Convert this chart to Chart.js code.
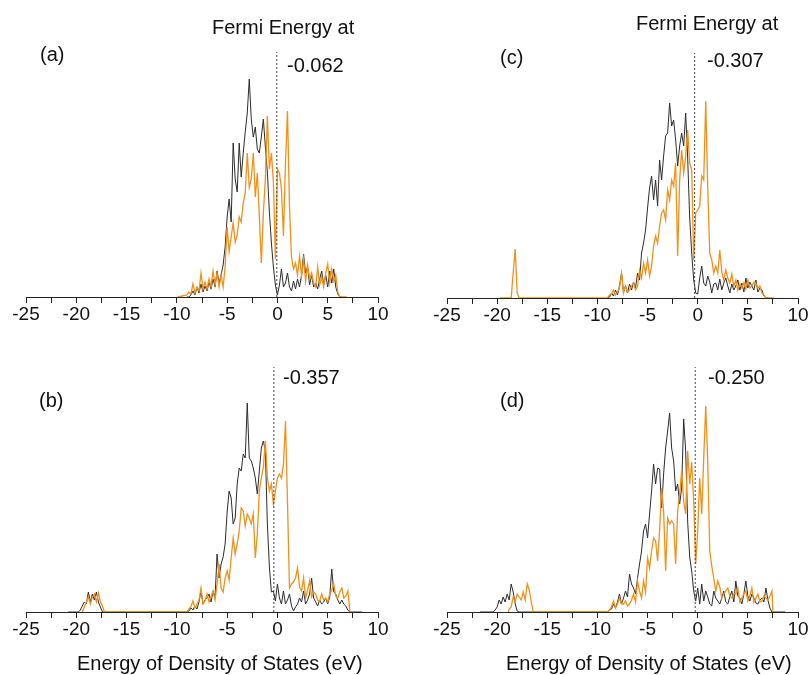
<!DOCTYPE html>
<html lang="en">
<head>
<meta charset="UTF-8">
<title>Density of States</title>
<script src="https://cdn.jsdelivr.net/npm/chart.js@4.4.0"></script>
<style>
  body { margin: 0; background: #fff; font-family: "Liberation Sans", Arial, sans-serif; }
  #page { position: relative; width: 811px; height: 675px; overflow: hidden; background: #fff; }
  canvas { position: absolute; }
  .txt { position: absolute; font-size: 20px; line-height: 20px; color: #111; white-space: nowrap; }
</style>
</head>
<body>
<div id="page">
  <canvas id="pa" width="405" height="330" style="left:0;top:0"></canvas>
  <canvas id="pb" width="405" height="330" style="left:0;top:315px"></canvas>
  <canvas id="pc" width="391" height="330" style="left:420px;top:1px"></canvas>
  <canvas id="pd" width="391" height="330" style="left:420px;top:315px"></canvas>

  <div class="txt" style="left:212px;top:17px">Fermi Energy at</div>
  <div class="txt" style="left:636px;top:13px">Fermi Energy at</div>
  <div class="txt" style="left:40px;top:44px">(a)</div>
  <div class="txt" style="left:500px;top:47px">(c)</div>
  <div class="txt" style="left:287px;top:55px">-0.062</div>
  <div class="txt" style="left:707px;top:50px">-0.307</div>
  <div class="txt" style="left:39px;top:390px">(b)</div>
  <div class="txt" style="left:500px;top:390px">(d)</div>
  <div class="txt" style="left:283px;top:367px">-0.357</div>
  <div class="txt" style="left:708px;top:367px">-0.250</div>
  <div class="txt" style="left:77px;top:653px">Energy of Density of States (eV)</div>
  <div class="txt" style="left:506px;top:653px">Energy of Density of States (eV)</div>
</div>

<script>
  // energy grids (eV): valence band from -9 eV, semi-core band from -20.4 eV
  const gridStart = -9;
  const coreStart = -20.4;
  const step = 0.2;

  // Fermi level of each panel (eV)
  const fermi = { a: -0.062, b: -0.357, c: -0.307, d: -0.250 };

  // DOS on the valence grid (-9.0 ... 7.6 eV), arbitrary units
  const aBlack = [
    0, 0, 0.2, 0.6, 0.2, 1.0, 0.4, 1.3, 0.5, 1.1,
    0.6, 1.5, 0.8, 1.8, 1.0, 2.6, 1.4, 2.2, 3.2, 5.0,
    8.0, 9.8, 7.5, 15.4, 11.8, 10.5, 15.4, 12.0, 14.4, 16.5,
    18.4, 21.8, 17.8, 16.0, 17.0, 14.8, 14.4, 16.0, 17.8, 15.0,
    12.5, 8.5, 5.4, 3.0, 1.2, 0.2, 1.2, 2.8, 1.0, 1.4,
    2.4, 1.0, 0.6, 1.6, 0.8, 1.8, 1.0, 2.2, 4.3, 2.4,
    3.0, 1.2, 2.2, 1.0, 1.4, 0.8, 1.8, 2.6, 1.2, 2.2,
    1.0, 2.6, 1.4, 2.8, 1.0, 0.3, 0, 0, 0, 0,
    0, 0, 0, 0
  ];
  const aOrange = [
    0.2, 0.5, 0.3, 1.3, 0.4, 1.0, 0.6, 2.4, 0.8, 1.5,
    0.8, 1.8, 1.0, 2.6, 1.2, 2.4, 1.0, 2.2, 1.0, 3.0,
    7.0, 4.5, 6.0, 7.4, 5.5, 6.2, 8.0, 7.5, 9.4, 10.4,
    14.4, 11.0, 11.8, 14.4, 10.0, 12.4, 8.1, 3.4, 8.4, 11.8,
    18.1, 12.8, 14.4, 11.5, 3.8, 12.8, 12.4, 10.8, 6.1, 13.4,
    18.6, 9.0, 4.0, 2.8, 3.4, 2.2, 4.1, 2.1, 3.8, 1.6,
    3.2, 1.8, 2.4, 1.4, 1.0, 3.0, 1.2, 2.0, 1.0, 2.4,
    3.3, 1.4, 2.8, 1.6, 2.2, 0.5, 0, 0, 0, 0,
    0, 0, 0, 0
  ];
  const bBlack = [
    0, 0.1, 0.4, 0.2, 0.6, 0.3, 1.0, 2.1, 0.8, 1.2,
    1.4, 1.8, 1.0, 2.1, 1.5, 5.8, 3.4, 4.8, 5.5, 6.8,
    10.0, 12.1, 11.4, 8.8, 9.4, 12.8, 14.4, 14.1, 15.8, 15.4,
    20.9, 15.4, 15.1, 14.4, 13.4, 11.8, 14.1, 16.4, 17.1, 16.1,
    8.8, 4.5, 2.0, 2.1, 1.1, 2.8, 1.4, 0.8, 2.1, 0.8,
    1.2, 1.8, 0.6, 0.1, 0.5, 0.8, 1.4, 1.0, 2.1, 0.8,
    1.2, 1.8, 3.4, 1.4, 1.0, 0.6, 1.2, 0.8, 1.0, 1.4,
    0.8, 1.5, 4.3, 2.0, 1.8, 1.2, 0.8, 1.2, 0.8, 0.6,
    0.2, 0, 0, 0
  ];
  const bOrange = [
    0, 0.3, 0.5, 1.1, 0.4, 0.8, 1.2, 2.4, 0.8, 1.1,
    1.8, 1.0, 1.5, 2.1, 1.2, 2.8, 4.8, 2.4, 2.0, 3.4,
    4.1, 3.2, 5.4, 7.4, 5.8, 6.8, 8.1, 10.4, 10.1, 8.6,
    9.8, 9.4, 8.8, 9.8, 5.4, 7.8, 12.1, 13.4, 14.5, 17.1,
    13.4, 12.1, 12.8, 10.8, 12.1, 13.4, 13.8, 13.4, 14.8, 19.1,
    11.0, 2.4, 2.8, 3.0, 3.4, 4.4, 2.5, 2.1, 3.4, 1.4,
    2.2, 3.1, 1.5, 2.0, 1.8, 1.2, 1.1, 1.8, 1.2, 1.4,
    1.0, 1.8, 2.2, 2.8, 1.6, 1.4, 2.0, 2.4, 1.4, 1.6,
    2.1, 0.1, 0, 0
  ];
  const cBlack = [
    0, 0.1, 0.5, 0.2, 0.8, 0.3, 1.2, 2.5, 0.6, 1.2,
    0.5, 1.4, 0.8, 1.6, 1.0, 2.5, 1.8, 4.5, 5.5, 6.8,
    9.0, 11.0, 12.2, 9.8, 11.8, 9.2, 13.8, 11.8, 14.2, 16.2,
    16.5, 19.5, 17.2, 17.8, 15.8, 13.2, 15.2, 16.5, 15.2, 18.5,
    14.0, 8.0, 4.5, 1.8, 0.5, 0.4, 2.0, 3.2, 1.5, 1.2,
    2.2, 1.6, 0.5, 1.4, 1.5, 0.8, 1.9, 0.8, 1.5, 2.0,
    1.2, 0.5, 1.4, 0.8, 1.2, 1.8, 0.8, 1.5, 0.6, 2.0,
    1.0, 1.6, 1.2, 0.8, 1.8, 0.6, 1.0, 0.8, 0.2, 0,
    0, 0, 0, 0
  ];
  const cOrange = [
    0, 0.3, 0.4, 0.8, 0.3, 0.6, 1.0, 2.5, 0.5, 1.2,
    0.6, 0.8, 1.2, 1.5, 0.8, 1.2, 2.8, 2.0, 3.5, 2.5,
    3.8, 2.2, 3.2, 5.2, 6.2, 5.5, 7.2, 8.5, 8.8, 7.8,
    10.8, 9.8, 11.8, 11.2, 13.5, 4.2, 11.8, 14.8, 12.5, 14.2,
    16.8, 13.5, 12.8, 3.8, 8.5, 8.8, 9.2, 12.2, 11.8, 19.7,
    11.0, 4.5, 3.8, 2.5, 3.2, 2.5, 4.8, 2.6, 1.8, 2.8,
    2.0, 1.5, 2.4, 1.2, 1.8, 0.8, 1.4, 1.0, 1.5, 0.9,
    1.8, 1.0, 1.2, 1.6, 1.5, 1.0, 1.2, 0.5, 0.3, 0,
    0, 0, 0, 0
  ];
  const dBlack = [
    0, 0.2, 0.3, 0.8, 0.4, 1.0, 1.8, 0.8, 1.4, 2.1,
    1.5, 3.8, 2.8, 2.4, 1.8, 3.4, 4.8, 6.1, 8.1, 8.8,
    7.4, 9.8, 12.1, 14.8, 12.8, 14.4, 14.3, 10.4, 13.8, 16.4,
    18.1, 19.9, 16.4, 15.1, 12.1, 12.8, 10.8, 12.4, 19.3, 16.1,
    9.0, 5.5, 4.1, 2.1, 1.1, 2.4, 0.8, 2.8, 1.1, 2.1,
    1.5, 0.8, 0.6, 2.1, 1.4, 1.1, 0.8, 1.4, 2.1, 1.0,
    0.8, 1.5, 2.1, 1.0, 3.1, 1.6, 1.4, 0.8, 1.8, 3.1,
    1.6, 1.1, 1.8, 1.4, 0.9, 0.8, 1.2, 1.4, 1.0, 2.4,
    1.2, 0.4, 0, 0
  ];
  const dOrange = [
    0, 0.2, 0.5, 1.1, 0.4, 0.8, 1.4, 0.8, 0.8, 1.1,
    0.6, 0.8, 1.2, 1.8, 1.0, 3.1, 2.1, 1.4, 3.1, 2.0,
    5.4, 4.4, 6.1, 7.4, 7.1, 5.1, 8.1, 12.4, 10.1, 4.1,
    9.4, 8.8, 9.1, 8.8, 4.8, 10.1, 11.8, 14.1, 11.1, 9.8,
    16.1, 12.8, 15.0, 11.1, 4.8, 8.1, 13.4, 9.8, 15.4, 20.6,
    15.0, 6.1, 4.6, 3.4, 2.1, 3.1, 2.5, 1.4, 1.8, 2.1,
    2.4, 1.6, 1.4, 1.8, 1.8, 2.4, 1.0, 1.4, 1.8, 2.1,
    1.1, 1.6, 2.4, 1.0, 1.4, 1.8, 1.0, 1.1, 1.6, 1.4,
    1.2, 1.6, 2.1, 0
  ];

  // DOS on the semi-core grid (-20.4 ... -16.2 eV)
  const bBlackCore = [
    0, 0, 0, 0, 0.2, 0.6, 1.0, 0.8, 2.0, 1.0,
    1.8, 1.2, 2.0, 1.0, 0.5, 0, 0, 0, 0, 0,
    0, 0
  ];
  const bOrangeCore = [
    0, 0, 0, 0, 0, 0, 0.5, 1.0, 1.5, 0.8,
    1.5, 1.8, 1.0, 1.9, 1.0, 0.6, 0, 0, 0, 0,
    0, 0
  ];
  const cOrangeCore = [
    0, 0, 0, 0, 0, 0, 0, 0, 0, 0,
    2.5, 4.9, 0.5, 0, 0, 0, 0, 0, 0, 0,
    0, 0
  ];
  const dBlackCore = [
    0, 0.2, 0.5, 1.2, 0.8, 1.5, 1.0, 1.8, 1.2, 2.8,
    2.0, 0.8, 0.1, 0, 0, 0, 0, 0, 0, 0,
    0, 0
  ];
  const dOrangeCore = [
    0, 0, 0, 0, 0, 0, 0, 0, 0.3, 0.5,
    1.5, 1.0, 1.8, 1.5, 1.2, 2.0, 1.2, 2.8, 2.2, 1.0,
    0, 0
  ];

  // where each curve runs along the baseline (eV)
  const extent = {
    aBlack: [-9.0, 6.4],   aOrange: [-9.9, 6.9],
    bBlack: [-20.8, 8.4],  bOrange: [-19.4, 7.3],
    cBlack: [-9.0, 7.0],   cOrange: [-19.7, 7.6],
    dBlack: [-21.7, 8.7],  dOrange: [-18.9, 7.5]
  };

  const xTicks = { min: -25, max: 10, step: 2.5 };
  const ORANGE = '#f39019';
  const BLACK = '#2b2b2b';

  function toPoints(main, core, ext) {
    const pts = [];
    if (core) core.forEach((v, i) => pts.push({ x: +(coreStart + i * step).toFixed(2), y: v }));
    main.forEach((v, i) => pts.push({ x: +(gridStart + i * step).toFixed(2), y: v }));
    const inside = pts.filter(p => p.x > ext[0] && p.x < ext[1]);
    return [{ x: ext[0], y: 0 }, ...inside, { x: ext[1], y: 0 }];
  }

  function drawPanel(id, ef, black, orange, pad) {
    new Chart(document.getElementById(id), {
      type: 'line',
      data: {
        datasets: [
          { data: [{ x: ef, y: 0 }, { x: ef, y: 24.5 }], borderColor: '#444', borderWidth: 1, borderDash: [2, 2] },
          { data: orange, borderColor: ORANGE, borderWidth: 1.3 },
          { data: black, borderColor: BLACK, borderWidth: 1 }
        ]
      },
      options: {
        responsive: false,
        animation: false,
        elements: { point: { radius: 0 }, line: { tension: 0, fill: false } },
        layout: { padding: pad },
        plugins: { legend: { display: false }, tooltip: { enabled: false } },
        scales: {
          x: {
            type: 'linear',
            min: xTicks.min,
            max: xTicks.max,
            afterFit: s => { s.height = 33; },
            grid: { drawOnChartArea: false, tickLength: 6, color: '#222' },
            border: { color: '#222', width: 1 },
            ticks: {
              stepSize: xTicks.step,
              autoSkip: false,
              maxRotation: 0,
              padding: 0,
              color: '#111',
              font: { size: 19, family: '"Liberation Sans", Arial, sans-serif' },
              callback: v => (v % 5 === 0 ? v : '')
            }
          },
          y: { display: false, min: 0, max: 25 }
        }
      }
    });
  }

  const leftPad = { left: 26, right: 27, top: 47, bottom: 0 };
  const rightPad = { left: 27, right: 13, top: 47, bottom: 0 };

  drawPanel('pa', fermi.a,
    toPoints(aBlack, null, extent.aBlack), toPoints(aOrange, null, extent.aOrange), leftPad);
  drawPanel('pb', fermi.b,
    toPoints(bBlack, bBlackCore, extent.bBlack), toPoints(bOrange, bOrangeCore, extent.bOrange), leftPad);
  drawPanel('pc', fermi.c,
    toPoints(cBlack, null, extent.cBlack), toPoints(cOrange, cOrangeCore, extent.cOrange), rightPad);
  drawPanel('pd', fermi.d,
    toPoints(dBlack, dBlackCore, extent.dBlack), toPoints(dOrange, dOrangeCore, extent.dOrange), rightPad);
</script>
</body>
</html>
